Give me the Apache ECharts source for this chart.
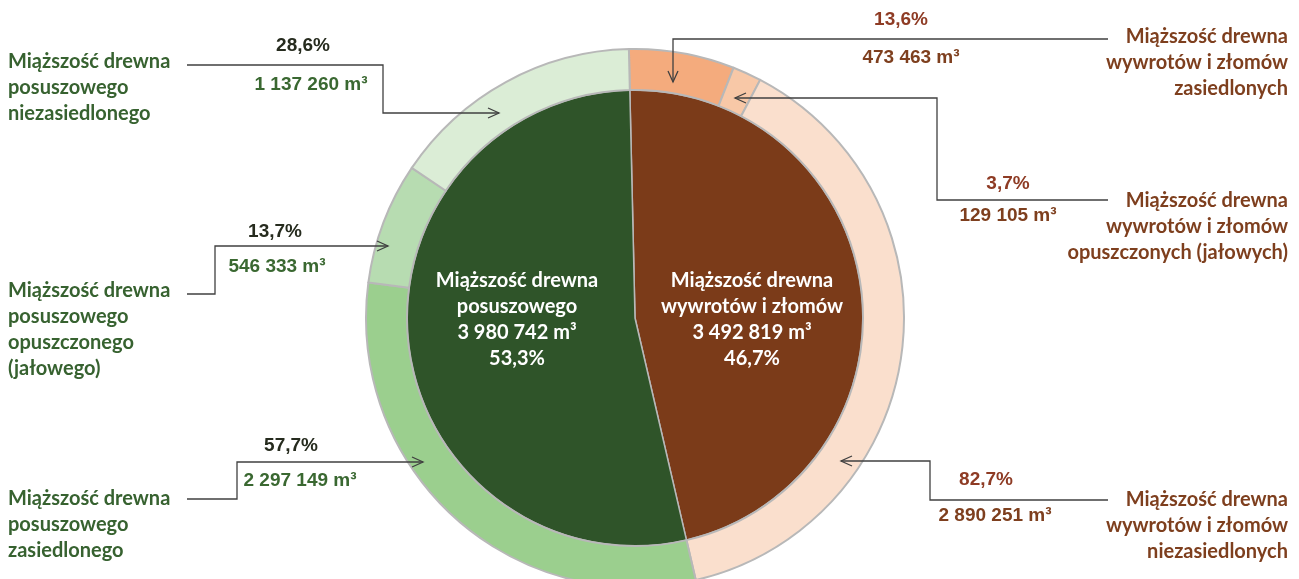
<!DOCTYPE html>
<html><head><meta charset="utf-8">
<script src="https://cdn.jsdelivr.net/npm/echarts@6/dist/echarts.min.js"></script>
<style>html,body{margin:0;padding:0;background:#fff}#c{width:1299px;height:579px}</style>
</head><body><div id="c"></div>
<script>
// ---- data ----
const innerNames = ['Miąższość drewna\nwywrotów i złomów', 'Miąższość drewna\nposuszowego'];
const innerValues = [3492819, 3980742];
const innerPct = ['46,7%', '53,3%'];

const outerNames = [
  'Miąższość drewna\nwywrotów i złomów\nzasiedlonych',
  'Miąższość drewna\nwywrotów i złomów\nopuszczonych (jałowych)',
  'Miąższość drewna\nwywrotów i złomów\nniezasiedlonych',
  'Miąższość drewna\nposuszowego\nzasiedlonego',
  'Miąższość drewna\nposuszowego\nopuszczonego\n(jałowego)',
  'Miąższość drewna\nposuszowego\nniezasiedlonego'
];
const outerValues = [473463, 129105, 2890251, 2297149, 546333, 1137260];
const outerPct = ['13,6%', '3,7%', '82,7%', '57,7%', '13,7%', '28,6%'];

// ---- styles ----
const innerColors = ['#7B3B19', '#2F5429'];
const outerColors = ['#F4AB7D', '#F8C8A7', '#FADFCD', '#9BCF8E', '#B7DCB1', '#DBEDD6'];
const fmt = v => String(v).replace(/\B(?=(\d{3})+(?!\d))/g, ' ');
const CAT_FONT = 'Lato, "Open Sans", sans-serif';
const NUM_FONT = '"Liberation Sans", Arial, sans-serif';

const center = [635, 318];
const chart = echarts.init(document.getElementById('c'), null, {renderer: 'canvas'});

// annotation layout (label blocks, numbers, connectors) per outer slice index
const ann = [
  {side: 'R', cat: [1288, 63], pct: [901, 20], val: [911, 58],
   line: [[1108,39],[673,39],[673,82]], tip: [673,82], dir: 'down'},
  {side: 'R', cat: [1288, 227], pct: [1008, 184], val: [1008, 216],
   line: [[1108,200],[937,200],[937,98],[735,98]], tip: [735,98], dir: 'left'},
  {side: 'R', cat: [1288, 526], pct: [986, 480], val: [995, 516],
   line: [[1108,500],[930,500],[930,461],[841,461]], tip: [841,461], dir: 'left'},
  {side: 'L', cat: [8, 525], pct: [291, 446], val: [300, 481],
   line: [[187,499],[237,499],[237,462],[423,462]], tip: [423,462], dir: 'right'},
  {side: 'L', cat: [8, 329.5], pct: [275, 232], val: [277, 267],
   line: [[187,294],[215,294],[215,246],[388,246]], tip: [388,246], dir: 'right'},
  {side: 'L', cat: [8, 88], pct: [303, 46], val: [311, 85],
   line: [[187,65],[383,65],[383,113],[499,113]], tip: [499,113], dir: 'right'}
];

const graphics = [];
const lineColor = '#404040';
ann.forEach((a, i) => {
  const brown = a.side === 'R';
  const catColor = brown ? '#7E3F1E' : '#376230';
  const pctColor = brown ? '#8E3B24' : '#262B1E';
  const valColor = brown ? '#7E3F1E' : '#3A6831';
  graphics.push({
    type: 'text', x: a.cat[0], y: a.cat[1], silent: true, z: 100,
    style: {text: outerNames[i], font: 'bold 20px ' + CAT_FONT, fill: catColor,
      lineHeight: 26, align: brown ? 'right' : 'left', verticalAlign: 'middle'}
  });
  graphics.push({
    type: 'text', x: a.pct[0], y: a.pct[1], silent: true, z: 100,
    style: {text: outerPct[i], font: 'bold 19px ' + NUM_FONT, fill: pctColor,
      align: 'center', verticalAlign: 'middle'}
  });
  graphics.push({
    type: 'text', x: a.val[0], y: a.val[1], silent: true, z: 100,
    style: {text: fmt(outerValues[i]) + ' m³', font: 'bold 19px ' + NUM_FONT, fill: valColor,
      align: 'center', verticalAlign: 'middle'}
  });
  graphics.push({
    type: 'polyline', silent: true, z: 100,
    shape: {points: a.line},
    style: {stroke: lineColor, lineWidth: 1.3, fill: null}
  });
  const [tx, ty] = a.tip;
  let head;
  if (a.dir === 'right') head = [[tx-11,ty-5],[tx,ty],[tx-11,ty+5]];
  else if (a.dir === 'left') head = [[tx+11,ty-5],[tx,ty],[tx+11,ty+5]];
  else head = [[tx-5,ty-11],[tx,ty],[tx+5,ty-11]];
  graphics.push({
    type: 'polyline', silent: true, z: 100,
    shape: {points: head},
    style: {stroke: lineColor, lineWidth: 1.3, fill: null}
  });
});

const innerLabelPos = [[752, 320], [517, 320]];

chart.setOption({
  animation: false,
  backgroundColor: '#ffffff',
  series: [
    {
      type: 'pie', center: center, radius: [0, 228], z: 2,
      startAngle: 91.3, clockwise: true, silent: true,
      itemStyle: {borderColor: '#B8B8B8', borderWidth: 1.5},
      label: {
        show: true, position: 'inside', color: '#ffffff',
        fontFamily: CAT_FONT, fontWeight: 'bold', fontSize: 20, lineHeight: 26,
        align: 'center', verticalAlign: 'middle',
        formatter: p => innerNames[p.dataIndex] + '\n' + fmt(innerValues[p.dataIndex]) + ' m³\n' + innerPct[p.dataIndex]
      },
      labelLine: {show: false},
      labelLayout: p => ({x: innerLabelPos[p.dataIndex][0], y: innerLabelPos[p.dataIndex][1]}),
      data: innerValues.map((v, i) => ({value: v, name: innerNames[i], itemStyle: {color: innerColors[i]}}))
    },
    {
      type: 'pie', center: center, radius: [228, 269], z: 2,
      startAngle: 91.3, clockwise: true, silent: true,
      itemStyle: {borderColor: '#B8B8B8', borderWidth: 2},
      label: {show: false}, labelLine: {show: false},
      data: outerValues.map((v, i) => ({value: v, name: outerNames[i], itemStyle: {color: outerColors[i]}}))
    }
  ],
  graphic: graphics
});
</script>
</body></html>
